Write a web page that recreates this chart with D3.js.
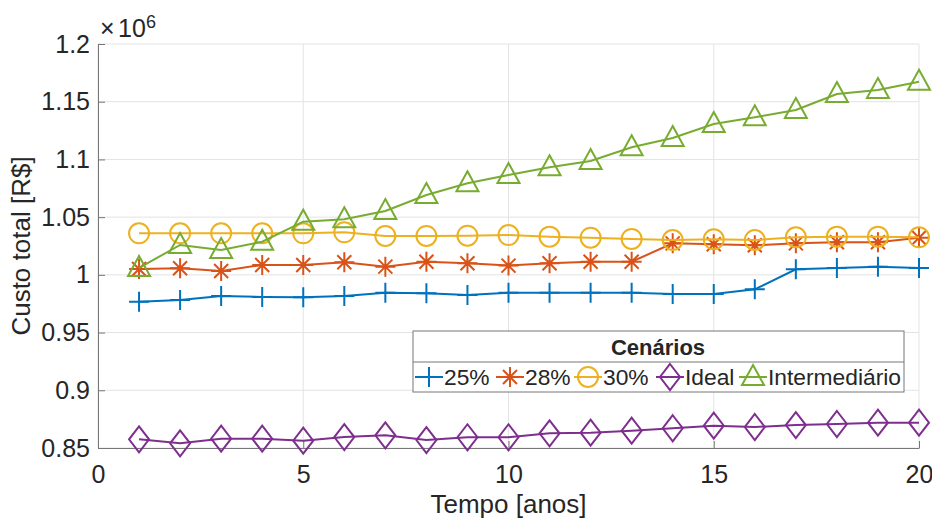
<!DOCTYPE html>
<html>
<head>
<meta charset="utf-8">
<script src="https://cdn.jsdelivr.net/npm/d3@7"></script>
<style>
  body { margin: 0; background: #fff; }
  text { font-family: "Liberation Sans", Arial, sans-serif; fill: #262626; }
</style>
</head>
<body>
<div class="chart"></div>
<script>
// DATA ------------------------------
const anos = d3.range(1, 21);
const yTicks = [0.85, 0.9, 0.95, 1, 1.05, 1.1, 1.15, 1.2];
const xTicks = [0, 5, 10, 15, 20];

const s25 = [0.9768, 0.9782, 0.9817, 0.9808, 0.9806, 0.9817, 0.9846, 0.9840, 0.9826, 0.9846,
             0.9846, 0.9846, 0.9846, 0.9834, 0.9834, 0.9875, 1.0048, 1.0059, 1.0071, 1.0059];
const s28 = [1.0051, 1.0057, 1.0034, 1.0086, 1.0086, 1.0109, 1.0071, 1.0114, 1.0100, 1.0080,
             1.0100, 1.0114, 1.0114, 1.0273, 1.0265, 1.0256, 1.0273, 1.0282, 1.0282, 1.0322];
const s30 = [1.0360, 1.0360, 1.0360, 1.0360, 1.0360, 1.0369, 1.0337, 1.0337, 1.0339, 1.0345,
             1.0331, 1.0322, 1.0311, 1.0302, 1.0308, 1.0302, 1.0325, 1.0331, 1.0331, 1.0325];
const sIdeal = [0.8575, 0.8541, 0.8581, 0.8581, 0.8563, 0.8595, 0.8610, 0.8569, 0.8593, 0.8593,
                0.8627, 0.8633, 0.8650, 0.8671, 0.8693, 0.8682, 0.8699, 0.8708, 0.8719, 0.8719];
const sInter = [1.0060, 1.0259, 1.0215, 1.0287, 1.0461, 1.0481, 1.0553, 1.0692, 1.0793, 1.0865,
                1.0932, 1.0986, 1.1105, 1.1186, 1.1307, 1.1365, 1.1428, 1.1567, 1.1601, 1.1673];

const series = [
  {name: "25%", values: s25, color: "#0072BD", marker: "plus"},
  {name: "28%", values: s28, color: "#D95319", marker: "star"},
  {name: "30%", values: s30, color: "#EDB120", marker: "circle"},
  {name: "Ideal", values: sIdeal, color: "#7E2F8E", marker: "diamond"},
  {name: "Intermediário", values: sInter, color: "#77AC30", marker: "triangle"}
];

// CHART INIT ------------------------------
const W = 932, H = 519;
const margin = {top: 44, right: 13, bottom: 71, left: 98};
const width = W - margin.left - margin.right,
      height = H - margin.top - margin.bottom;

const root = d3.select(".chart").append("svg")
    .attr("width", W)
    .attr("height", H);
const svg = root.append("g")
    .attr("transform", "translate(" + margin.left + "," + margin.top + ")");

const x = d3.scaleLinear().domain([0, 20]).range([0, width]);
const y = d3.scaleLinear().domain([0.85, 1.2]).range([height, 0]);

// marker shapes
const markers = {
  plus: "M-10,0H10M0,-10V10",
  star: "M-10,0H10M0,-10V10M-7,-7L7,7M-7,7L7,-7",
  circle: "M10,0A10,10 0 1,1 -10,0A10,10 0 1,1 10,0Z",
  diamond: "M0,-13L10,0L0,13L-10,0Z",
  triangle: "M0,-12L11,8L-11,8Z"
};

// grid
svg.append("g").selectAll("line").data(yTicks).join("line")
    .attr("x1", 0).attr("x2", width)
    .attr("y1", d => y(d)).attr("y2", d => y(d))
    .attr("stroke", "#e3e3e3").attr("stroke-width", 1);
svg.append("g").selectAll("line").data(xTicks).join("line")
    .attr("y1", 0).attr("y2", height)
    .attr("x1", d => x(d)).attr("x2", d => x(d))
    .attr("stroke", "#e3e3e3").attr("stroke-width", 1);

// axes
const yAxis = svg.append("g")
    .call(d3.axisLeft(y).tickValues(yTicks).tickSizeInner(-7).tickSizeOuter(0)
      .tickPadding(8).tickFormat(d => d3.format("")(+d.toFixed(2))));
const xAxis = svg.append("g")
    .attr("transform", "translate(0," + height + ")")
    .call(d3.axisBottom(x).tickValues(xTicks).tickSizeInner(-7).tickSizeOuter(0)
      .tickPadding(17));
[xAxis, yAxis].forEach(a => {
  a.select(".domain").attr("stroke", "#777");
  a.selectAll(".tick line").attr("stroke", "#777");
  a.selectAll(".tick text").attr("font-size", 25)
    .attr("font-family", "Liberation Sans, Arial, sans-serif").attr("fill", "#262626");
});

// exponent
root.append("text").attr("x", 100).attr("y", 37).attr("font-size", 25).text("×");
root.append("text").attr("x", 118).attr("y", 37).attr("font-size", 25).text("10");
root.append("text").attr("x", 146).attr("y", 28).attr("font-size", 18).text("6");

// axis titles
root.append("text")
    .attr("x", margin.left + width / 2).attr("y", 513)
    .attr("text-anchor", "middle").attr("font-size", 26)
    .text("Tempo [anos]");
root.append("text")
    .attr("transform", "translate(30," + (margin.top + height / 2) + ") rotate(-90)")
    .attr("text-anchor", "middle").attr("font-size", 26)
    .text("Custo total [R$]");

// lines + markers
const line = d3.line().x((d, i) => x(anos[i])).y(d => y(d));
series.forEach(s => {
  const g = svg.append("g");
  g.append("path")
    .attr("d", line(s.values))
    .attr("fill", "none").attr("stroke", s.color).attr("stroke-width", 2);
  g.selectAll("path.m").data(s.values).join("path")
    .attr("class", "m")
    .attr("transform", (d, i) => "translate(" + x(anos[i]) + "," + y(d) + ")")
    .attr("d", markers[s.marker])
    .attr("fill", "none").attr("stroke", s.color).attr("stroke-width", 2);
});

// legend
const lg = root.append("g").attr("transform", "translate(413,331)");
lg.append("rect").attr("width", 491).attr("height", 61)
    .attr("fill", "#fff").attr("stroke", "#777").attr("stroke-width", 1);
lg.append("line").attr("x1", 0).attr("x2", 491).attr("y1", 31).attr("y2", 31)
    .attr("stroke", "#777");
lg.append("text").attr("x", 245).attr("y", 24).attr("text-anchor", "middle")
    .attr("font-size", 22).attr("font-weight", "bold").attr("fill", "#000")
    .text("Cenários");
const legX = [2, 83, 161, 243, 326];
series.forEach((s, i) => {
  const it = lg.append("g").attr("transform", "translate(" + legX[i] + ",46)");
  it.append("line").attr("x1", 0).attr("x2", 28)
    .attr("stroke", s.color).attr("stroke-width", 2);
  it.append("path").attr("transform", "translate(14,0)")
    .attr("d", markers[s.marker])
    .attr("fill", "none").attr("stroke", s.color).attr("stroke-width", 2);
  it.append("text").attr("x", 29).attr("y", 8).attr("font-size", 22.8).attr("fill", "#000")
    .text(s.name);
});
</script>
</body>
</html>
